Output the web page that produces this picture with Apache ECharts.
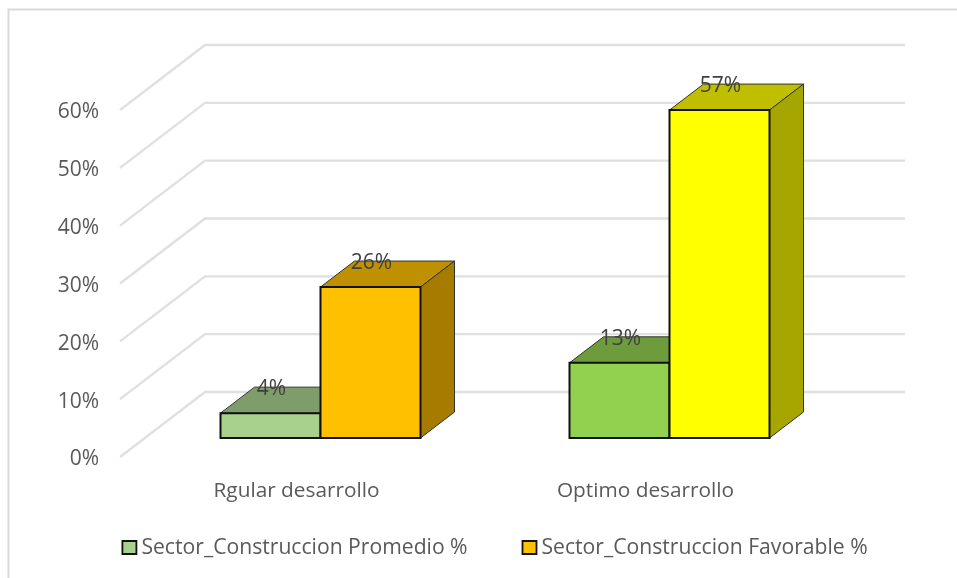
<!DOCTYPE html>
<html><head><meta charset="utf-8">
<style>html,body{margin:0;padding:0;background:#fff}#c{width:957px;height:578px}</style>
<script src="https://cdn.jsdelivr.net/npm/echarts@6/dist/echarts.min.js"></script>
</head><body><div id="c"></div>
<script>
const categories = ['Rgular desarrollo', 'Optimo desarrollo'];
const promedio = [4.3, 13.0];
const favorable = [26.1, 56.7];
const ticks = [0, 10, 20, 30, 40, 50, 60];
const seriesNames = ['Sector_Construccion Promedio %', 'Sector_Construccion Favorable %'];
const promedioColors = [['#A9D18E', '#7F9D6B', '#6E8E58'], ['#92D050', '#6E9C3C', '#5F8834']];
const favorableColors = [['#FFC000', '#BF9000', '#A67C00'], ['#FFFF00', '#BFBF00', '#A6A600']];

const FONT = 'Open Sans';
const FS = 21;
const TEXT = '#595959';
const BAR_W = 100, DEPTH_X = 34, DEPTH_Y = 26;
const FLOOR_X = 26, FLOOR_Y = 19;
const WALL_X = 85, WALL_Y = 65, WALL_W = 700;

function wall(params, api) {
  const p = api.coord([0, api.value(0)]);
  const x0 = 120;
  return {
    type: 'polyline', silent: true,
    shape: { points: [[x0, p[1]], [x0 + WALL_X, p[1] - WALL_Y], [x0 + WALL_X + WALL_W, p[1] - WALL_Y]] },
    style: { stroke: '#E0E0E0', lineWidth: 2.4, fill: null }
  };
}
function bar3d(palette, shift) {
  return function (params, api) {
    const idx = api.value(0), val = api.value(1);
    const c = api.coord([idx, val]), b = api.coord([idx, 0]);
    const cols = palette[idx];
    const x1 = c[0] + FLOOR_X + shift, x2 = x1 + BAR_W;
    const top = c[1] - FLOOR_Y, base = b[1] - FLOOR_Y;
    const edge = '#111', lw = 2;
    return {
      type: 'group',
      children: [
        { type: 'polygon', shape: { points: [[x1, top], [x2, top], [x2 + DEPTH_X, top - DEPTH_Y], [x1 + DEPTH_X, top - DEPTH_Y]] },
          style: { fill: cols[1], stroke: '#333', lineWidth: 1 } },
        { type: 'polygon', shape: { points: [[x2, top], [x2 + DEPTH_X, top - DEPTH_Y], [x2 + DEPTH_X, base - DEPTH_Y], [x2, base]] },
          style: { fill: cols[2], stroke: '#333', lineWidth: 1 } },
        { type: 'rect', shape: { x: x1, y: top, width: BAR_W, height: base - top },
          style: { fill: cols[0], stroke: edge, lineWidth: lw } },
        { type: 'text', z2: 100, style: { text: Math.round(val) + '%', x: x1 + BAR_W / 2 + 1, y: top - DEPTH_Y + 2, align: 'center', verticalAlign: 'middle',
          font: FS + 'px "' + FONT + '"', fill: '#404040' } }
      ]
    };
  };
}
const chart = echarts.init(document.getElementById('c'), null, { renderer: 'canvas' });
chart.setOption({
  animation: false,
  backgroundColor: '#fff',
  graphic: [{ type: 'rect', silent: true, z: -1,
    shape: { x: 8.5, y: 9.5, width: 1000, height: 1000 },
    style: { fill: '#fff', stroke: '#D9D9D9', lineWidth: 2 } }],
  grid: { left: 120, width: 698, top: 110, height: 347, containLabel: false },
  legend: {
    left: 121.5, top: 537, padding: 0, itemWidth: 14, itemHeight: 13, itemGap: 54, icon: 'rect',
    data: seriesNames.map((n, i) => ({ name: n, icon: 'rect',
      itemStyle: { color: i ? favorableColors[0][0] : promedioColors[0][0], borderColor: '#111', borderWidth: 1.8 } })),
    textStyle: { fontFamily: FONT, fontSize: 21.15, color: TEXT }
  },
  xAxis: { type: 'category', data: categories, axisTick: { show: false }, axisLine: { show: false },
    axisLabel: { fontFamily: FONT, fontSize: 20.8, color: TEXT, margin: 23.5, padding: [0, 0, 0, 4] } },
  yAxis: { type: 'value', min: 0, max: 60, interval: 10, splitLine: { show: false }, axisLine: { show: false }, axisTick: { show: false },
    axisLabel: { fontFamily: FONT, fontSize: FS, color: TEXT, margin: 21, verticalAlign: 'top', padding: [-8, 0, 0, 0], formatter: '{value}%' } },
  series: [
    { type: 'custom', silent: true, z: 1, data: ticks.map(t => [t]), encode: { y: 0 }, renderItem: wall },
    { type: 'custom', name: seriesNames[0], z: 2, renderItem: bar3d(promedioColors, -BAR_W), encode: { x: 0, y: 1 },
      itemStyle: { color: promedioColors[0][0] }, data: promedio.map((v, i) => [i, v]) },
    { type: 'custom', name: seriesNames[1], z: 3, renderItem: bar3d(favorableColors, 0), encode: { x: 0, y: 1 },
      itemStyle: { color: favorableColors[0][0] }, data: favorable.map((v, i) => [i, v]) }
  ]
});
</script></body></html>
